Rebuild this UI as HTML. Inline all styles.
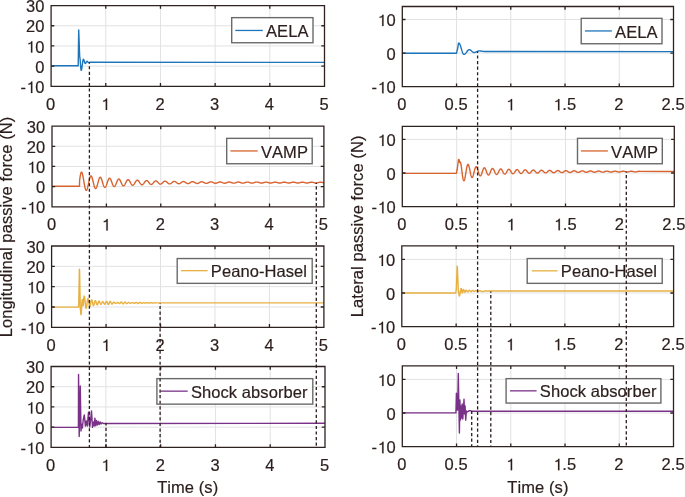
<!DOCTYPE html><html><head><meta charset="utf-8"><style>html,body{margin:0;padding:0;background:#fff;width:685px;height:497px;overflow:hidden}svg{display:block;will-change:transform}text{font-family:"Liberation Sans",sans-serif;font-size:16.5px;letter-spacing:0.08px;font-kerning:none;fill:#2b1e1c;stroke:#2b1e1c;stroke-width:0.2px}.g1{fill:#2b1e1c;stroke:#2b1e1c;stroke-width:25px}</style></head><body>
<svg width="685" height="497" viewBox="0 0 685 497">
<rect width="685" height="497" fill="#fff"/>
<clipPath id="cL0"><rect x="51.1" y="5.6" width="273.4" height="80.7"/></clipPath>
<path d="M105.78 5.6V86.3M160.46 5.6V86.3M215.14 5.6V86.3M269.82 5.6V86.3M51.1 66.12H324.5M51.1 45.95H324.5M51.1 25.77H324.5" stroke="#e1e2e4" stroke-width="1" fill="none"/>
<path d="M40 65.7 L78.2 65.7 L78.7 29.9 L79.7 57 L79.91 57.66 L80.13 59.52 L80.34 62.21 L80.56 65.19 L80.77 67.88 L80.99 69.74 L81.2 70.4 L81.4 70.18 L81.6 69.52 L81.8 68.48 L82 67.16 L82.2 65.64 L82.4 64.06 L82.6 62.54 L82.8 61.22 L83 60.18 L83.2 59.52 L83.4 59.3 L83.61 59.43 L83.82 59.79 L84.03 60.35 L84.24 61.04 L84.46 61.76 L84.67 62.45 L84.88 63.01 L85.09 63.37 L85.3 63.5 L85.51 63.42 L85.72 63.18 L85.94 62.82 L86.15 62.4 L86.36 61.98 L86.58 61.62 L86.79 61.38 L87 61.3 L87.23 61.36 L87.46 61.54 L87.69 61.81 L87.91 62.09 L88.14 62.36 L88.37 62.54 L88.6 62.6 L88.8 62.58 L89 62.54 L89.2 62.48 L89.4 62.4 L89.6 62.32 L89.8 62.26 L90 62.22 L90.2 62.2 L330 62.4" fill="none" stroke="#1f75ba" stroke-width="1.4" stroke-linejoin="round" stroke-linecap="butt" clip-path="url(#cL0)"/>
<path d="M51.1 5.6H324.5V86.3H51.1ZM51.1 86.3v-3.2M51.1 5.6v3.2M105.78 86.3v-3.2M105.78 5.6v3.2M160.46 86.3v-3.2M160.46 5.6v3.2M215.14 86.3v-3.2M215.14 5.6v3.2M269.82 86.3v-3.2M269.82 5.6v3.2M324.5 86.3v-3.2M324.5 5.6v3.2M51.1 86.3h3.2M324.5 86.3h-3.2M51.1 66.12h3.2M324.5 66.12h-3.2M51.1 45.95h3.2M324.5 45.95h-3.2M51.1 25.77h3.2M324.5 25.77h-3.2M51.1 5.6h3.2M324.5 5.6h-3.2" stroke="#2e2220" stroke-width="1.3" fill="none" stroke-linejoin="miter"/>
<text x="46.07" y="109.9">0</text>
<path class="g1" transform="translate(100.75 109.9) scale(0.008057 -0.008057)" d="M620 0L790 0L790 1409L672 1409Q600 1185 300 1150L300 1022Q520 1030 620 1118Z"/>
<text x="100.75" y="109.9"> </text>
<text x="155.43" y="109.9">2</text>
<text x="210.11" y="109.9">3</text>
<text x="264.79" y="109.9">4</text>
<text x="319.47" y="109.9">5</text>
<path class="g1" transform="translate(25.97 92.9) scale(0.008057 -0.008057)" d="M620 0L790 0L790 1409L672 1409Q600 1185 300 1150L300 1022Q520 1030 620 1118Z"/>
<text x="20.39" y="92.9">- 0</text>
<text x="35.22" y="72.72">0</text>
<path class="g1" transform="translate(25.97 52.55) scale(0.008057 -0.008057)" d="M620 0L790 0L790 1409L672 1409Q600 1185 300 1150L300 1022Q520 1030 620 1118Z"/>
<text x="25.97" y="52.55"> 0</text>
<text x="25.97" y="32.38">20</text>
<text x="25.97" y="12.2">30</text>
<rect x="231.7" y="17.65" width="81.3" height="25.1" fill="#fff" stroke="#6a6a6a" stroke-width="1.4"/>
<path d="M235.3 30.45H262.8" stroke="#1f75ba" stroke-width="1.3"/>
<text x="266" y="37.05">AELA</text>
<clipPath id="cL1"><rect x="52" y="126.1" width="271.9" height="80.7"/></clipPath>
<path d="M106.38 126.1V206.8M160.76 126.1V206.8M215.14 126.1V206.8M269.52 126.1V206.8M52 186.62H323.9M52 166.45H323.9M52 146.28H323.9" stroke="#e1e2e4" stroke-width="1" fill="none"/>
<path d="M40 186.3 L79.5 186.3 L79.6 180.77 L79.8 179.15 L80 177.66 L80.2 176.33 L80.4 175.17 L80.6 174.19 L80.8 173.4 L81 172.8 L81.2 172.4 L81.4 172.19 L81.6 172.17 L81.8 172.33 L82 172.67 L82.2 173.17 L82.4 173.83 L82.6 174.61 L82.8 175.51 L83 176.52 L83.2 177.6 L83.4 178.74 L83.6 179.92 L83.8 181.12 L84 182.31 L84.2 183.49 L84.4 184.62 L84.6 185.69 L84.8 186.68 L85 187.58 L85.2 188.37 L85.4 189.05 L85.6 189.6 L85.8 190.01 L86 190.28 L86.2 190.41 L86.4 190.4 L86.6 190.25 L86.8 189.97 L87 189.55 L87.2 189.02 L87.4 188.38 L87.6 187.65 L87.8 186.84 L88 185.96 L88.2 185.03 L88.4 184.07 L88.6 183.1 L88.8 182.13 L89 181.18 L89.2 180.27 L89.4 179.41 L89.6 178.62 L89.8 177.91 L90 177.3 L90.2 176.78 L90.4 176.38 L90.6 176.09 L90.8 175.93 L91 175.89 L91.2 175.97 L91.4 176.17 L91.6 176.48 L91.8 176.9 L92 177.42 L92.2 178.03 L92.4 178.71 L92.6 179.46 L92.8 180.26 L93 181.09 L93.2 181.94 L93.4 182.8 L93.6 183.64 L93.8 184.45 L94 185.23 L94.2 185.95 L94.4 186.6 L94.6 187.17 L94.8 187.65 L95 188.04 L95.2 188.33 L95.4 188.5 L95.6 188.57 L95.8 188.53 L96 188.39 L96.2 188.14 L96.4 187.79 L96.6 187.35 L96.8 186.82 L97 186.23 L97.2 185.58 L97.4 184.87 L97.6 184.13 L97.8 183.38 L98 182.61 L98.2 181.85 L98.4 181.11 L98.6 180.41 L98.8 179.75 L99 179.15 L99.2 178.62 L99.4 178.16 L99.6 177.79 L99.8 177.51 L100 177.33 L100.2 177.24 L100.4 177.25 L100.6 177.36 L100.8 177.56 L101 177.86 L101.2 178.23 L101.4 178.69 L101.6 179.21 L101.8 179.78 L102 180.41 L102.2 181.07 L102.4 181.75 L102.6 182.43 L102.8 183.12 L103 183.79 L103.2 184.44 L103.4 185.04 L103.6 185.59 L103.8 186.09 L104 186.51 L104.2 186.87 L104.4 187.14 L104.6 187.32 L104.8 187.42 L105 187.43 L105.2 187.35 L105.4 187.19 L105.6 186.94 L105.8 186.62 L106 186.22 L106.2 185.76 L106.4 185.25 L106.6 184.7 L106.8 184.11 L107 183.5 L107.2 182.88 L107.4 182.26 L107.6 181.65 L107.8 181.06 L108 180.51 L108.2 180 L108.4 179.54 L108.6 179.14 L108.8 178.81 L109 178.55 L109.2 178.37 L109.4 178.26 L109.6 178.24 L109.8 178.29 L110 178.42 L110.2 178.63 L110.4 178.91 L110.6 179.25 L110.8 179.66 L111 180.11 L111.2 180.6 L111.4 181.13 L111.6 181.68 L111.8 182.24 L112 182.8 L112.2 183.35 L112.4 183.89 L112.6 184.39 L112.8 184.86 L113 185.29 L113.2 185.66 L113.4 185.97 L113.6 186.22 L113.8 186.4 L114 186.51 L114.2 186.55 L114.4 186.51 L114.6 186.4 L114.8 186.23 L115 185.99 L115.2 185.69 L115.4 185.33 L115.6 184.93 L115.8 184.49 L116 184.02 L116.2 183.53 L116.4 183.02 L116.6 182.51 L116.8 182.01 L117 181.52 L117.2 181.06 L117.4 180.63 L117.6 180.23 L117.8 179.89 L118 179.6 L118.2 179.36 L118.4 179.19 L118.6 179.08 L118.8 179.03 L119 179.05 L119.2 179.14 L119.4 179.29 L119.6 179.49 L119.8 179.76 L120 180.07 L120.2 180.43 L120.4 180.82 L120.6 181.24 L120.8 181.69 L121 182.14 L121.2 182.6 L121.4 183.06 L121.6 183.51 L121.8 183.93 L122 184.33 L122.2 184.69 L122.4 185.01 L122.6 185.28 L122.8 185.5 L123 185.67 L123.2 185.78 L123.4 185.83 L123.6 185.82 L123.8 185.75 L124 185.63 L124.2 185.45 L124.4 185.22 L124.6 184.94 L124.8 184.62 L125 184.27 L125.2 183.89 L125.4 183.49 L125.6 183.08 L125.8 182.66 L126 182.24 L126.2 181.84 L126.4 181.45 L126.6 181.09 L126.8 180.75 L127 180.46 L127.2 180.2 L127.4 179.99 L127.6 179.83 L127.8 179.73 L128 179.67 L128.2 179.67 L128.4 179.73 L128.6 179.83 L128.8 179.99 L129 180.19 L129.2 180.44 L129.4 180.72 L129.6 181.04 L129.8 181.38 L130 181.74 L130.2 182.11 L130.4 182.49 L130.6 182.87 L130.8 183.24 L131 183.6 L131.2 183.93 L131.4 184.24 L131.6 184.51 L131.8 184.75 L132 184.95 L132.2 185.1 L132.4 185.2 L132.6 185.26 L132.8 185.26 L133 185.22 L133.2 185.13 L133.4 184.99 L133.6 184.81 L133.8 184.59 L134 184.34 L134.2 184.06 L134.4 183.75 L134.6 183.42 L134.8 183.08 L135 182.74 L135.2 182.39 L135.4 182.05 L135.6 181.73 L135.8 181.42 L136 181.14 L136.2 180.89 L136.4 180.67 L136.6 180.48 L136.8 180.34 L137 180.24 L137.2 180.19 L137.4 180.17 L137.6 180.21 L137.8 180.29 L138 180.41 L138.2 180.57 L138.4 180.76 L138.6 180.99 L138.8 181.24 L139 181.52 L139.2 181.82 L139.4 182.13 L139.6 182.44 L139.8 182.76 L140 183.07 L140.2 183.36 L140.4 183.65 L140.6 183.91 L140.8 184.14 L141 184.34 L141.2 184.51 L141.4 184.65 L141.6 184.74 L141.8 184.8 L142 184.81 L142.2 184.78 L142.4 184.72 L142.6 184.61 L142.8 184.47 L143 184.29 L143.2 184.09 L143.4 183.86 L143.6 183.61 L143.8 183.34 L144 183.06 L144.2 182.77 L144.4 182.48 L144.6 182.2 L144.8 181.93 L145 181.67 L145.2 181.43 L145.4 181.21 L145.6 181.02 L145.8 180.86 L146 180.74 L146.2 180.65 L146.4 180.6 L146.6 180.58 L146.8 180.6 L147 180.66 L147.2 180.75 L147.4 180.88 L147.6 181.04 L147.8 181.22 L148 181.43 L148.2 181.66 L148.4 181.91 L148.6 182.16 L148.8 182.42 L149 182.69 L149.2 182.95 L149.4 183.2 L149.6 183.44 L149.8 183.66 L150 183.86 L150.2 184.03 L150.4 184.18 L150.6 184.3 L150.8 184.38 L151 184.43 L151.2 184.45 L151.4 184.43 L151.6 184.38 L151.8 184.3 L152 184.18 L152.2 184.04 L152.4 183.87 L152.6 183.68 L152.8 183.47 L153 183.25 L153.2 183.01 L153.4 182.77 L153.6 182.53 L153.8 182.3 L154 182.06 L154.2 181.85 L154.4 181.64 L154.6 181.46 L154.8 181.3 L155 181.16 L155.2 181.05 L155.4 180.97 L155.6 180.92 L155.8 180.9 L156 180.92 L156.2 180.96 L156.4 181.04 L156.6 181.14 L156.8 181.27 L157 181.43 L157.2 181.6 L157.4 181.79 L157.6 182 L157.8 182.21 L158 182.43 L158.2 182.65 L158.4 182.87 L158.6 183.08 L158.8 183.28 L159 183.47 L159.2 183.64 L159.4 183.79 L159.6 183.92 L159.8 184.02 L160 184.09 L160.2 184.14 L160.4 184.16 L160.6 184.15 L160.8 184.11 L161 184.04 L161.2 183.94 L161.4 183.82 L161.6 183.68 L161.8 183.53 L162 183.35 L162.2 183.16 L162.4 182.96 L162.6 182.76 L162.8 182.56 L163 182.36 L163.2 182.16 L163.4 181.97 L163.6 181.8 L163.8 181.64 L164 181.51 L164.2 181.39 L164.4 181.29 L164.6 181.22 L164.8 181.18 L165 181.17 L165.2 181.18 L165.4 181.21 L165.6 181.27 L165.8 181.36 L166 181.47 L166.2 181.6 L166.4 181.74 L166.6 181.91 L166.8 182.08 L167 182.26 L167.2 182.45 L167.4 182.64 L167.6 182.82 L167.8 183 L168 183.18 L168.2 183.34 L168.4 183.48 L168.6 183.61 L168.8 183.72 L169 183.8 L169.2 183.87 L169.4 183.91 L169.6 183.92 L169.8 183.92 L170 183.88 L170.2 183.82 L170.4 183.74 L170.6 183.64 L170.8 183.53 L171 183.39 L171.2 183.24 L171.4 183.08 L171.6 182.91 L171.8 182.74 L172 182.57 L172.2 182.39 L172.4 182.23 L172.6 182.07 L172.8 181.92 L173 181.78 L173.2 181.67 L173.4 181.57 L173.6 181.49 L173.8 181.43 L174 181.39 L174.2 181.37 L174.4 181.38 L174.6 181.41 L174.8 181.47 L175 181.54 L175.2 181.63 L175.4 181.74 L175.6 181.87 L175.8 182.01 L176 182.16 L176.2 182.31 L176.4 182.47 L176.6 182.63 L176.8 182.79 L177 182.95 L177.2 183.1 L177.4 183.23 L177.6 183.36 L177.8 183.47 L178 183.56 L178.2 183.64 L178.4 183.69 L178.6 183.72 L178.8 183.74 L179 183.73 L179.2 183.7 L179.4 183.65 L179.6 183.58 L179.8 183.49 L180 183.39 L180.2 183.27 L180.4 183.15 L180.6 183.01 L180.8 182.86 L181 182.71 L181.2 182.56 L181.4 182.42 L181.6 182.27 L181.8 182.13 L182 182.01 L182.2 181.89 L182.4 181.79 L182.6 181.7 L182.8 181.63 L183 181.58 L183.2 181.55 L183.4 181.54 L183.6 181.55 L183.8 181.58 L184 181.63 L184.2 181.69 L184.4 181.77 L184.6 181.87 L184.8 181.98 L185 182.1 L185.2 182.23 L185.4 182.36 L185.6 182.5 L185.8 182.64 L186 182.78 L186.2 182.91 L186.4 183.04 L186.6 183.16 L186.8 183.27 L187 183.36 L187.2 183.44 L187.4 183.5 L187.6 183.55 L187.8 183.58 L188 183.59 L188.2 183.58 L188.4 183.55 L188.6 183.51 L188.8 183.44 L189 183.37 L189.2 183.28 L189.4 183.17 L189.6 183.06 L189.8 182.94 L190 182.81 L190.2 182.68 L190.4 182.55 L190.6 182.42 L190.8 182.3 L191 182.18 L191.2 182.07 L191.4 181.97 L191.6 181.88 L191.8 181.81 L192 181.75 L192.2 181.71 L192.4 181.69 L192.6 181.68 L192.8 181.69 L193 181.71 L193.2 181.76 L193.4 181.81 L193.6 181.89 L193.8 181.97 L194 182.07 L194.2 182.18 L194.4 182.29 L194.6 182.41 L194.8 182.53 L195 182.65 L195.2 182.77 L195.4 182.89 L195.6 183 L195.8 183.1 L196 183.2 L196.2 183.28 L196.4 183.35 L196.6 183.4 L196.8 183.44 L197 183.46 L197.2 183.47 L197.4 183.46 L197.6 183.43 L197.8 183.39 L198 183.33 L198.2 183.26 L198.4 183.18 L198.6 183.09 L198.8 182.99 L199 182.88 L199.2 182.77 L199.4 182.65 L199.6 182.54 L199.8 182.43 L200 182.32 L200.2 182.21 L200.4 182.12 L200.6 182.03 L200.8 181.96 L201 181.89 L201.2 181.84 L201.4 181.81 L201.6 181.79 L201.8 181.79 L202 181.8 L202.2 181.82 L202.4 181.86 L202.6 181.92 L202.8 181.98 L203 182.06 L203.2 182.15 L203.4 182.24 L203.6 182.35 L203.8 182.45 L204 182.56 L204.2 182.67 L204.4 182.78 L204.6 182.88 L204.8 182.97 L205 183.06 L205.2 183.14 L205.4 183.21 L205.6 183.27 L205.8 183.32 L206 183.35 L206.2 183.36 L206.4 183.37 L206.6 183.36 L206.8 183.33 L207 183.29 L207.2 183.24 L207.4 183.17 L207.6 183.1 L207.8 183.02 L208 182.92 L208.2 182.83 L208.4 182.73 L208.6 182.62 L208.8 182.52 L209 182.42 L209.2 182.33 L209.4 182.23 L209.6 182.15 L209.8 182.08 L210 182.01 L210.2 181.96 L210.4 181.92 L210.6 181.89 L210.8 181.88 L211 181.87 L211.2 181.89 L211.4 181.91 L211.6 181.95 L211.8 182 L212 182.07 L212.2 182.14 L212.4 182.22 L212.6 182.31 L212.8 182.4 L213 182.49 L213.2 182.59 L213.4 182.69 L213.6 182.78 L213.8 182.87 L214 182.96 L214.2 183.04 L214.4 183.11 L214.6 183.17 L214.8 183.22 L215 183.25 L215.2 183.28 L215.4 183.29 L215.6 183.29 L215.8 183.27 L216 183.25 L216.2 183.21 L216.4 183.16 L216.6 183.1 L216.8 183.03 L217 182.95 L217.2 182.87 L217.4 182.78 L217.6 182.69 L217.8 182.59 L218 182.5 L218.2 182.41 L218.4 182.33 L218.6 182.25 L218.8 182.17 L219 182.11 L219.2 182.05 L219.4 182.01 L219.6 181.98 L219.8 181.95 L220 181.94 L220.2 181.95 L220.4 181.96 L220.6 181.99 L220.8 182.03 L221 182.08 L221.2 182.14 L221.4 182.2 L221.6 182.28 L221.8 182.36 L222 182.44 L222.2 182.53 L222.4 182.62 L222.6 182.71 L222.8 182.79 L223 182.87 L223.2 182.95 L223.4 183.02 L223.6 183.08 L223.8 183.13 L224 183.17 L224.2 183.2 L224.4 183.22 L224.6 183.23 L224.8 183.22 L225 183.2 L225.2 183.18 L225.4 183.14 L225.6 183.09 L225.8 183.03 L226 182.97 L226.2 182.89 L226.4 182.81 L226.6 182.73 L226.8 182.65 L227 182.57 L227.2 182.48 L227.4 182.4 L227.6 182.32 L227.8 182.25 L228 182.19 L228.2 182.13 L228.4 182.09 L228.6 182.05 L228.8 182.02 L229 182.01 L229.2 182 L229.4 182.01 L229.6 182.03 L229.8 182.05 L230 182.09 L230.2 182.14 L230.4 182.2 L230.6 182.26 L230.8 182.33 L231 182.41 L231.2 182.49 L231.4 182.57 L231.6 182.65 L231.8 182.73 L232 182.81 L232.2 182.88 L232.4 182.95 L232.6 183.01 L232.8 183.06 L233 183.1 L233.2 183.14 L233.4 183.16 L233.6 183.17 L233.8 183.17 L234 183.17 L234.2 183.15 L234.4 183.12 L234.6 183.08 L234.8 183.03 L235 182.97 L235.2 182.91 L235.4 182.84 L235.6 182.77 L235.8 182.69 L236 182.61 L236.2 182.54 L236.4 182.46 L236.6 182.39 L236.8 182.32 L237 182.25 L237.2 182.2 L237.4 182.15 L237.6 182.11 L237.8 182.08 L238 182.06 L238.2 182.05 L238.4 182.05 L238.6 182.06 L238.8 182.08 L239 182.11 L239.2 182.15 L239.4 182.2 L239.6 182.25 L239.8 182.32 L240 182.38 L240.2 182.46 L240.4 182.53 L240.6 182.6 L240.8 182.68 L241 182.75 L241.2 182.82 L241.4 182.89 L241.6 182.95 L241.8 183 L242 183.04 L242.2 183.08 L242.4 183.11 L242.6 183.13 L242.8 183.13 L243 183.13 L243.2 183.12 L243.4 183.1 L243.6 183.06 L243.8 183.02 L244 182.97 L244.2 182.92 L244.4 182.86 L244.6 182.79 L244.8 182.72 L245 182.65 L245.2 182.58 L245.4 182.51 L245.6 182.44 L245.8 182.37 L246 182.31 L246.2 182.25 L246.4 182.2 L246.6 182.16 L246.8 182.13 L247 182.1 L247.2 182.09 L247.4 182.08 L247.6 182.09 L247.8 182.1 L248 182.13 L248.2 182.16 L248.4 182.2 L248.6 182.25 L248.8 182.31 L249 182.37 L249.2 182.43 L249.4 182.5 L249.6 182.57 L249.8 182.64 L250 182.71 L250.2 182.78 L250.4 182.84 L250.6 182.9 L250.8 182.95 L251 183 L251.2 183.03 L251.4 183.06 L251.6 183.09 L251.8 183.1 L252 183.1 L252.2 183.09 L252.4 183.08 L252.6 183.05 L252.8 183.02 L253 182.97 L253.2 182.92 L253.4 182.87 L253.6 182.81 L253.8 182.75 L254 182.68 L254.2 182.61 L254.4 182.54 L254.6 182.48 L254.8 182.41 L255 182.35 L255.2 182.3 L255.4 182.25 L255.6 182.2 L255.8 182.17 L256 182.14 L256.2 182.12 L256.4 182.12 L256.6 182.12 L256.8 182.13 L257 182.12 L257.2 182.12 L257.4 182.14 L257.6 182.16 L257.8 182.19 L258 182.23 L258.2 182.28 L258.4 182.33 L258.6 182.39 L258.8 182.45 L259 182.51 L259.2 182.58 L259.4 182.64 L259.6 182.71 L259.8 182.77 L260 182.83 L260.2 182.89 L260.4 182.93 L260.6 182.98 L260.8 183.01 L261 183.04 L261.2 183.06 L261.4 183.07 L261.6 183.07 L261.8 183.06 L262 183.05 L262.2 183.02 L262.4 182.99 L262.6 182.95 L262.8 182.9 L263 182.85 L263.2 182.79 L263.4 182.73 L263.6 182.67 L263.8 182.6 L264 182.54 L264.2 182.48 L264.4 182.42 L264.6 182.36 L264.8 182.31 L265 182.26 L265.2 182.22 L265.4 182.19 L265.6 182.16 L265.8 182.15 L266 182.14 L266.2 182.14 L266.4 182.15 L266.6 182.17 L266.8 182.2 L267 182.23 L267.2 182.27 L267.4 182.32 L267.6 182.37 L267.8 182.43 L268 182.49 L268.2 182.55 L268.4 182.62 L268.6 182.68 L268.8 182.74 L269 182.8 L269.2 182.85 L269.4 182.9 L269.6 182.94 L269.8 182.98 L270 183.01 L270.2 183.03 L270.4 183.04 L270.6 183.05 L270.8 183.05 L271 183.03 L271.2 183.01 L271.4 182.98 L271.6 182.95 L271.8 182.91 L272 182.86 L272.2 182.8 L272.4 182.75 L272.6 182.69 L272.8 182.63 L273 182.57 L273.2 182.51 L273.4 182.45 L273.6 182.39 L273.8 182.34 L274 182.29 L274.2 182.25 L274.4 182.22 L274.6 182.19 L274.8 182.17 L275 182.16 L275.2 182.16 L275.4 182.17 L275.6 182.18 L275.8 182.2 L276 182.23 L276.2 182.27 L276.4 182.31 L276.6 182.36 L276.8 182.42 L277 182.47 L277.2 182.53 L277.4 182.59 L277.6 182.65 L277.8 182.71 L278 182.77 L278.2 182.82 L278.4 182.87 L278.6 182.91 L278.8 182.95 L279 182.98 L279.2 183.01 L279.4 183.02 L279.6 183.03 L279.8 183.03 L280 183.02 L280.2 183.01 L280.4 182.98 L280.6 182.95 L280.8 182.91 L281 182.87 L281.2 182.82 L281.4 182.76 L281.6 182.71 L281.8 182.65 L282 182.59 L282.2 182.53 L282.4 182.47 L282.6 182.42 L282.8 182.37 L283 182.32 L283.2 182.28 L283.4 182.24 L283.6 182.22 L283.8 182.19 L284 182.18 L284.2 182.18 L284.4 182.18 L284.6 182.19 L284.8 182.21 L285 182.23 L285.2 182.27 L285.4 182.31 L285.6 182.35 L285.8 182.4 L286 182.45 L286.2 182.51 L286.4 182.57 L286.6 182.63 L286.8 182.68 L287 182.74 L287.2 182.79 L287.4 182.84 L287.6 182.89 L287.8 182.93 L288 182.96 L288.2 182.98 L288.4 183 L288.6 183.01 L288.8 183.02 L289 183.01 L289.2 183 L289.4 182.98 L289.6 182.95 L289.8 182.92 L290 182.88 L290.2 182.83 L290.4 182.78 L290.6 182.73 L290.8 182.67 L291 182.61 L291.2 182.56 L291.4 182.5 L291.6 182.45 L291.8 182.4 L292 182.35 L292.2 182.31 L292.4 182.27 L292.6 182.24 L292.8 182.21 L293 182.2 L293.2 182.19 L293.4 182.19 L293.6 182.2 L293.8 182.21 L294 182.23 L294.2 182.26 L294.4 182.3 L294.6 182.34 L294.8 182.39 L295 182.44 L295.2 182.49 L295.4 182.55 L295.6 182.6 L295.8 182.66 L296 182.71 L296.2 182.77 L296.4 182.82 L296.6 182.86 L296.8 182.9 L297 182.94 L297.2 182.96 L297.4 182.99 L297.6 183 L297.8 183 L298 183 L298.2 182.99 L298.4 182.98 L298.6 182.95 L298.8 182.92 L299 182.88 L299.2 182.84 L299.4 182.8 L299.6 182.74 L299.8 182.69 L300 182.64 L300.2 182.58 L300.4 182.53 L300.6 182.47 L300.8 182.42 L301 182.37 L301.2 182.33 L301.4 182.29 L301.6 182.26 L301.8 182.23 L302 182.21 L302.2 182.2 L302.4 182.2 L302.6 182.2 L302.8 182.22 L303 182.23 L303.2 182.26 L303.4 182.29 L303.6 182.33 L303.8 182.37 L304 182.42 L304.2 182.47 L304.4 182.53 L304.6 182.58 L304.8 182.64 L305 182.69 L305.2 182.74 L305.4 182.79 L305.6 182.84 L305.8 182.88 L306 182.92 L306.2 182.95 L306.4 182.97 L306.6 182.98 L306.8 182.99 L307 183 L307.2 182.99 L307.4 182.98 L307.6 182.95 L307.8 182.93 L308 182.89 L308.2 182.85 L308.4 182.81 L308.6 182.76 L308.8 182.71 L309 182.66 L309.2 182.6 L309.4 182.55 L309.6 182.5 L309.8 182.44 L310 182.4 L310.2 182.35 L310.4 182.31 L310.6 182.28 L310.8 182.25 L311 182.23 L311.2 182.22 L311.4 182.21 L311.6 182.21 L311.8 182.22 L312 182.23 L312.2 182.26 L312.4 182.29 L312.6 182.32 L312.8 182.36 L313 182.41 L313.2 182.46 L313.4 182.51 L313.6 182.56 L313.8 182.61 L314 182.67 L314.2 182.72 L314.4 182.77 L314.6 182.82 L314.8 182.86 L315 182.9 L315.2 182.93 L315.4 182.95 L315.6 182.97 L315.8 182.98 L316 182.99 L316.2 182.98 L316.4 182.97 L316.6 182.96 L316.8 182.93 L317 182.9 L317.2 182.86 L317.4 182.82 L317.6 182.78 L317.8 182.73 L318 182.68 L318.2 182.62 L318.4 182.57 L318.6 182.52 L318.8 182.47 L319 182.42 L319.2 182.37 L319.4 182.33 L319.6 182.3 L319.8 182.27 L320 182.24 L320.2 182.23 L320.4 182.22 L320.6 182.22 L320.8 182.22 L321 182.23 L321.2 182.25 L321.4 182.28 L321.6 182.31 L321.8 182.35 L322 182.39 L322.2 182.44 L322.4 182.49 L322.6 182.54 L322.8 182.59 L323 182.64 L323.2 182.7 L323.4 182.75 L323.6 182.79 L323.8 182.84 L324 182.88 L324.2 182.91 L324.4 182.94 L324.6 182.96 L324.8 182.97 L325 182.98 L325.2 182.98 L325.4 182.97 L325.6 182.96 L325.8 182.94 L330 182.6" fill="none" stroke="#d9632e" stroke-width="1.4" stroke-linejoin="round" stroke-linecap="butt" clip-path="url(#cL1)"/>
<path d="M52 126.1H323.9V206.8H52ZM52 206.8v-3.2M52 126.1v3.2M106.38 206.8v-3.2M106.38 126.1v3.2M160.76 206.8v-3.2M160.76 126.1v3.2M215.14 206.8v-3.2M215.14 126.1v3.2M269.52 206.8v-3.2M269.52 126.1v3.2M323.9 206.8v-3.2M323.9 126.1v3.2M52 206.8h3.2M323.9 206.8h-3.2M52 186.62h3.2M323.9 186.62h-3.2M52 166.45h3.2M323.9 166.45h-3.2M52 146.28h3.2M323.9 146.28h-3.2M52 126.1h3.2M323.9 126.1h-3.2" stroke="#2e2220" stroke-width="1.3" fill="none" stroke-linejoin="miter"/>
<text x="46.97" y="230.4">0</text>
<path class="g1" transform="translate(101.35 230.4) scale(0.008057 -0.008057)" d="M620 0L790 0L790 1409L672 1409Q600 1185 300 1150L300 1022Q520 1030 620 1118Z"/>
<text x="101.35" y="230.4"> </text>
<text x="155.73" y="230.4">2</text>
<text x="210.11" y="230.4">3</text>
<text x="264.49" y="230.4">4</text>
<text x="318.87" y="230.4">5</text>
<path class="g1" transform="translate(26.87 213.4) scale(0.008057 -0.008057)" d="M620 0L790 0L790 1409L672 1409Q600 1185 300 1150L300 1022Q520 1030 620 1118Z"/>
<text x="21.29" y="213.4">- 0</text>
<text x="36.12" y="193.22">0</text>
<path class="g1" transform="translate(26.87 173.05) scale(0.008057 -0.008057)" d="M620 0L790 0L790 1409L672 1409Q600 1185 300 1150L300 1022Q520 1030 620 1118Z"/>
<text x="26.87" y="173.05"> 0</text>
<text x="26.87" y="152.88">20</text>
<text x="26.87" y="132.7">30</text>
<rect x="226.7" y="138.35" width="85.5" height="25.4" fill="#fff" stroke="#6a6a6a" stroke-width="1.4"/>
<path d="M230.4 150.95H257.7" stroke="#d9632e" stroke-width="1.3"/>
<text x="260.9" y="157.55">VAMP</text>
<clipPath id="cL2"><rect x="51.6" y="246" width="272.3" height="81.3"/></clipPath>
<path d="M106.06 246V327.3M160.52 246V327.3M214.98 246V327.3M269.44 246V327.3M51.6 306.98H323.9M51.6 286.65H323.9M51.6 266.32H323.9" stroke="#e1e2e4" stroke-width="1" fill="none"/>
<path d="M40 307.1 L78.7 307.1 L79.35 269.3 L79.55 269.5 L80.3 309 L80.53 310.43 L80.77 313.27 L81 314.7 L81.22 313.68 L81.43 310.9 L81.65 307.1 L81.87 303.3 L82.08 300.52 L82.3 299.5 L82.53 300.38 L82.75 302.5 L82.97 304.62 L83.2 305.5 L83.6 300.08 L83.75 298.5 L83.9 297.26 L84.05 296.43 L84.2 296.05 L84.35 296.11 L84.5 296.6 L84.65 297.48 L84.8 298.66 L84.95 300.07 L85.1 301.6 L85.25 303.16 L85.4 304.64 L85.55 305.95 L85.7 307.02 L85.85 307.79 L86 308.22 L86.15 308.3 L86.3 308.03 L86.45 307.44 L86.6 306.59 L86.75 305.53 L86.9 304.34 L87.05 303.11 L87.2 301.9 L87.35 300.79 L87.5 299.86 L87.65 299.15 L87.8 298.71 L87.95 298.54 L88.1 298.66 L88.25 299.04 L88.4 299.66 L88.55 300.46 L88.7 301.4 L88.85 302.4 L89 303.4 L89.15 304.33 L89.3 305.15 L89.45 305.8 L89.6 306.25 L89.75 306.47 L89.9 306.46 L90.05 306.22 L90.2 305.77 L90.35 305.16 L90.5 304.42 L90.65 303.6 L90.8 302.76 L90.95 301.95 L91.1 301.23 L91.25 300.63 L91.4 300.19 L91.55 299.93 L91.7 299.87 L91.85 300.01 L92 300.32 L92.15 300.8 L92.3 301.39 L92.45 302.07 L92.6 302.78 L92.75 303.48 L92.9 304.13 L93.05 304.69 L93.2 305.12 L93.35 305.4 L93.5 305.51 L93.65 305.45 L93.8 305.23 L93.95 304.87 L94.1 304.39 L94.25 303.82 L94.4 303.21 L94.55 302.59 L94.7 302.01 L94.85 301.49 L95 301.07 L95.15 300.77 L95.3 300.62 L95.45 300.61 L95.6 300.74 L95.75 301.02 L95.9 301.41 L96.05 301.89 L96.2 302.43 L96.35 302.99 L96.5 303.54 L96.65 304.03 L96.8 304.44 L96.95 304.74 L97.1 304.92 L97.25 304.96 L97.4 304.87 L97.55 304.66 L97.7 304.33 L97.85 303.93 L98 303.47 L98.15 302.98 L98.3 302.51 L98.45 302.07 L98.6 301.7 L98.75 301.42 L98.9 301.25 L99.05 301.18 L99.2 301.23 L99.35 301.38 L99.5 301.63 L99.65 301.95 L99.8 302.31 L99.95 302.7 L100.1 303.09 L100.25 303.46 L100.4 303.77 L100.55 304.02 L100.7 304.19 L100.85 304.27 L101 304.27 L101.15 304.17 L101.3 304 L101.45 303.77 L101.6 303.48 L101.75 303.17 L101.9 302.85 L102.05 302.53 L102.2 302.25 L102.35 302 L102.5 301.82 L102.65 301.71 L102.8 301.67 L102.95 301.72 L103.1 301.83 L103.25 302.02 L103.4 302.26 L103.55 302.54 L103.7 302.85 L103.85 303.16 L104 303.47 L104.15 303.74 L104.3 303.96 L104.45 304.12 L104.6 304.2 L104.75 304.2 L104.9 304.12 L105.05 303.96 L105.2 303.72 L105.35 303.42 L105.5 303.08 L105.65 302.72 L105.8 302.36 L105.95 302.03 L106.1 301.74 L106.25 301.53 L106.4 301.4 L106.55 301.36 L106.7 301.43 L106.85 301.59 L107 301.85 L107.15 302.17 L107.3 302.56 L107.45 302.97 L107.6 303.38 L107.75 303.77 L107.9 304.11 L108.05 304.37 L108.2 304.53 L108.35 304.59 L108.5 304.54 L108.65 304.38 L108.8 304.12 L108.95 303.79 L109.1 303.39 L109.25 302.97 L109.4 302.55 L109.55 302.15 L109.7 301.81 L109.85 301.54 L110 301.37 L110.15 301.31 L110.3 301.35 L110.45 301.49 L110.6 301.72 L110.75 302.01 L110.9 302.36 L111.05 302.72 L111.2 303.08 L111.35 303.41 L111.5 303.69 L111.65 303.91 L111.8 304.05 L111.95 304.11 L112.1 304.09 L112.25 303.99 L112.4 303.83 L112.55 303.62 L112.7 303.37 L112.85 303.11 L113 302.86 L113.15 302.62 L113.3 302.42 L113.45 302.26 L113.6 302.16 L113.75 302.11 L113.9 302.11 L114.05 302.16 L114.2 302.26 L114.35 302.39 L114.5 302.54 L114.65 302.71 L114.8 302.87 L114.95 303.03 L115.1 303.17 L115.25 303.28 L115.4 303.37 L115.55 303.42 L115.7 303.44 L115.85 303.42 L116 303.37 L116.15 303.3 L116.3 303.2 L116.45 303.09 L116.6 302.96 L116.75 302.84 L116.9 302.71 L117.05 302.6 L117.2 302.51 L117.35 302.43 L117.5 302.39 L117.65 302.38 L117.8 302.39 L117.95 302.45 L118.1 302.53 L118.25 302.64 L118.4 302.78 L118.55 302.93 L118.7 303.08 L118.85 303.23 L119 303.37 L119.15 303.48 L119.3 303.56 L119.45 303.6 L119.6 303.6 L119.75 303.55 L119.9 303.45 L120.05 303.31 L120.2 303.13 L120.35 302.93 L120.5 302.72 L120.65 302.52 L120.8 302.33 L120.95 302.17 L121.1 302.05 L121.25 301.99 L121.4 301.98 L121.55 302.04 L121.7 302.15 L121.85 302.32 L122 302.53 L122.15 302.77 L122.3 303.03 L122.45 303.28 L122.6 303.51 L122.75 303.7 L122.9 303.84 L123.05 303.92 L123.2 303.93 L123.35 303.88 L123.5 303.76 L123.65 303.58 L123.8 303.36 L123.95 303.12 L124.1 302.86 L124.25 302.6 L124.4 302.37 L124.55 302.18 L124.7 302.04 L124.85 301.96 L125 301.94 L125.15 301.98 L125.3 302.08 L125.45 302.24 L125.6 302.43 L125.75 302.64 L125.9 302.86 L126.05 303.08 L126.2 303.28 L126.35 303.44 L126.5 303.56 L126.65 303.63 L126.8 303.65 L126.95 303.62 L127.1 303.55 L127.25 303.44 L127.4 303.3 L127.55 303.14 L127.7 302.98 L127.85 302.82 L128 302.68 L128.15 302.56 L128.3 302.47 L128.45 302.42 L128.6 302.4 L128.75 302.41 L128.9 302.45 L129.05 302.52 L129.2 302.61 L129.35 302.71 L129.5 302.81 L129.65 302.92 L129.8 303.01 L129.95 303.09 L130.1 303.16 L130.25 303.2 L130.4 303.23 L130.55 303.23 L130.7 303.21 L130.85 303.18 L131 303.13 L131.15 303.06 L131.3 302.99 L131.45 302.91 L131.6 302.84 L131.75 302.76 L131.9 302.7 L132.05 302.65 L132.2 302.61 L132.35 302.59 L132.5 302.59 L132.65 302.61 L132.8 302.65 L132.95 302.7 L133.1 302.77 L133.25 302.86 L133.4 302.94 L133.55 303.03 L133.7 303.12 L133.85 303.2 L134 303.26 L134.15 303.3 L134.3 303.31 L134.45 303.3 L134.6 303.26 L134.75 303.19 L134.9 303.11 L135.05 303 L135.2 302.88 L135.35 302.76 L135.5 302.64 L135.65 302.53 L135.8 302.44 L135.95 302.38 L136.1 302.36 L136.25 302.36 L136.4 302.41 L136.55 302.49 L136.7 302.6 L136.85 302.73 L137 302.87 L137.15 303.03 L137.3 303.17 L137.45 303.3 L137.6 303.41 L137.75 303.48 L137.9 303.52 L138.05 303.52 L138.2 303.47 L138.35 303.39 L138.5 303.27 L138.65 303.13 L138.8 302.98 L138.95 302.82 L139.1 302.67 L139.25 302.54 L139.4 302.43 L139.55 302.35 L139.7 302.31 L139.85 302.31 L140 302.35 L140.15 302.42 L140.3 302.53 L140.45 302.65 L140.6 302.78 L140.75 302.92 L140.9 303.05 L141.05 303.17 L141.2 303.26 L141.35 303.33 L141.5 303.37 L141.65 303.37 L141.8 303.34 L141.95 303.29 L142.1 303.21 L142.25 303.12 L142.4 303.02 L142.55 302.92 L142.7 302.82 L142.85 302.73 L143 302.66 L143.15 302.61 L143.3 302.59 L143.45 302.58 L143.6 302.6 L143.75 302.63 L143.9 302.68 L144.05 302.74 L144.2 302.8 L144.35 302.87 L144.5 302.93 L144.65 302.99 L144.8 303.04 L144.95 303.07 L145.1 303.1 L145.25 303.11 L145.4 303.11 L145.55 303.09 L145.7 303.06 L145.85 303.03 L146 302.99 L146.15 302.94 L146.3 302.89 L146.45 302.85 L146.6 302.8 L146.75 302.77 L146.9 302.74 L147.05 302.72 L147.2 302.71 L147.35 302.72 L147.5 302.73 L147.65 302.76 L147.8 302.8 L147.95 302.84 L148.1 302.89 L148.25 302.94 L148.4 302.99 L148.55 303.04 L148.7 303.07 L148.85 303.1 L149 303.11 L149.15 303.11 L149.3 303.1 L149.45 303.07 L149.6 303.03 L149.75 302.98 L149.9 302.93 L150.05 302.87 L150.2 302.82 L150.35 302.77 L150.5 302.73 L150.65 302.7 L150.8 302.68 L150.95 302.68 L151.1 302.7 L151.25 302.72 L151.4 302.76 L151.55 302.81 L151.7 302.86 L151.85 302.91 L152 302.96 L152.15 303 L152.3 303.04 L152.45 303.06 L152.6 303.08 L152.75 303.08 L152.9 303.07 L153.05 303.05 L153.2 303.02 L153.35 302.98 L153.5 302.94 L153.65 302.91 L153.8 302.87 L153.95 302.84 L154.1 302.82 L154.25 302.81 L154.4 302.8 L154.55 302.8 L154.7 302.81 L154.85 302.82 L155 302.84 L155.15 302.86 L155.3 302.88 L155.45 302.89 L155.6 302.91 L155.75 302.92 L155.9 302.92 L156.05 302.93 L156.2 302.92 L156.35 302.92 L156.5 302.92 L156.65 302.91 L156.8 302.91 L156.95 302.9 L157.1 302.9 L157.25 302.9 L157.4 302.9 L157.55 302.9 L157.7 302.9 L157.85 302.9 L158 302.9 L330 302.9" fill="none" stroke="#e7b040" stroke-width="1.4" stroke-linejoin="round" stroke-linecap="butt" clip-path="url(#cL2)"/>
<path d="M51.6 246H323.9V327.3H51.6ZM51.6 327.3v-3.2M51.6 246v3.2M106.06 327.3v-3.2M106.06 246v3.2M160.52 327.3v-3.2M160.52 246v3.2M214.98 327.3v-3.2M214.98 246v3.2M269.44 327.3v-3.2M269.44 246v3.2M323.9 327.3v-3.2M323.9 246v3.2M51.6 327.3h3.2M323.9 327.3h-3.2M51.6 306.98h3.2M323.9 306.98h-3.2M51.6 286.65h3.2M323.9 286.65h-3.2M51.6 266.32h3.2M323.9 266.32h-3.2M51.6 246h3.2M323.9 246h-3.2" stroke="#2e2220" stroke-width="1.3" fill="none" stroke-linejoin="miter"/>
<text x="46.57" y="350.9">0</text>
<path class="g1" transform="translate(101.03 350.9) scale(0.008057 -0.008057)" d="M620 0L790 0L790 1409L672 1409Q600 1185 300 1150L300 1022Q520 1030 620 1118Z"/>
<text x="101.03" y="350.9"> </text>
<text x="155.49" y="350.9">2</text>
<text x="209.95" y="350.9">3</text>
<text x="264.41" y="350.9">4</text>
<text x="318.87" y="350.9">5</text>
<path class="g1" transform="translate(26.47 333.9) scale(0.008057 -0.008057)" d="M620 0L790 0L790 1409L672 1409Q600 1185 300 1150L300 1022Q520 1030 620 1118Z"/>
<text x="20.89" y="333.9">- 0</text>
<text x="35.72" y="313.58">0</text>
<path class="g1" transform="translate(26.47 293.25) scale(0.008057 -0.008057)" d="M620 0L790 0L790 1409L672 1409Q600 1185 300 1150L300 1022Q520 1030 620 1118Z"/>
<text x="26.47" y="293.25"> 0</text>
<text x="26.47" y="272.93">20</text>
<text x="26.47" y="252.6">30</text>
<rect x="177.2" y="258.55" width="135" height="24.8" fill="#fff" stroke="#6a6a6a" stroke-width="1.4"/>
<path d="M181.1 270.65H207.6" stroke="#e7b040" stroke-width="1.3"/>
<text x="210.8" y="277.25">Peano-Hasel</text>
<clipPath id="cL3"><rect x="51.1" y="366.5" width="273.9" height="80.9"/></clipPath>
<path d="M105.88 366.5V447.4M160.66 366.5V447.4M215.44 366.5V447.4M270.22 366.5V447.4M51.1 427.17H325M51.1 406.95H325M51.1 386.73H325" stroke="#e1e2e4" stroke-width="1" fill="none"/>
<path d="M40 427.4 L78.4 427.4 L78.55 374.4 L79.2 436.6 L79.7 415 L80.25 386 L81 431 L81.6 424.1 L82.4 428 L83.2 420 L84.3 414.9 L85.4 426.1 L86.4 421 L87.3 426 L88.5 412.1 L89.7 427 L90.5 421 L91.5 410.9 L92.5 427.4 L93.5 422 L94.2 426 L94.9 418.1 L95.7 425.7 L96.5 420.5 L97.4 425 L98.3 421.5 L99.2 424.5 L100.1 422 L101 424 L102 422.8 L103.8 423.5 L330 423.3" fill="none" stroke="#7a3188" stroke-width="1.4" stroke-linejoin="round" stroke-linecap="butt" clip-path="url(#cL3)"/>
<path d="M51.1 366.5H325V447.4H51.1ZM51.1 447.4v-3.2M51.1 366.5v3.2M105.88 447.4v-3.2M105.88 366.5v3.2M160.66 447.4v-3.2M160.66 366.5v3.2M215.44 447.4v-3.2M215.44 366.5v3.2M270.22 447.4v-3.2M270.22 366.5v3.2M325 447.4v-3.2M325 366.5v3.2M51.1 447.4h3.2M325 447.4h-3.2M51.1 427.17h3.2M325 427.17h-3.2M51.1 406.95h3.2M325 406.95h-3.2M51.1 386.73h3.2M325 386.73h-3.2M51.1 366.5h3.2M325 366.5h-3.2" stroke="#2e2220" stroke-width="1.3" fill="none" stroke-linejoin="miter"/>
<text x="46.07" y="471">0</text>
<path class="g1" transform="translate(100.85 471) scale(0.008057 -0.008057)" d="M620 0L790 0L790 1409L672 1409Q600 1185 300 1150L300 1022Q520 1030 620 1118Z"/>
<text x="100.85" y="471"> </text>
<text x="155.63" y="471">2</text>
<text x="210.41" y="471">3</text>
<text x="265.19" y="471">4</text>
<text x="319.97" y="471">5</text>
<path class="g1" transform="translate(25.97 454) scale(0.008057 -0.008057)" d="M620 0L790 0L790 1409L672 1409Q600 1185 300 1150L300 1022Q520 1030 620 1118Z"/>
<text x="20.39" y="454">- 0</text>
<text x="35.22" y="433.77">0</text>
<path class="g1" transform="translate(25.97 413.55) scale(0.008057 -0.008057)" d="M620 0L790 0L790 1409L672 1409Q600 1185 300 1150L300 1022Q520 1030 620 1118Z"/>
<text x="25.97" y="413.55"> 0</text>
<text x="25.97" y="393.33">20</text>
<text x="25.97" y="373.1">30</text>
<rect x="156.9" y="378.65" width="155.9" height="25.5" fill="#fff" stroke="#6a6a6a" stroke-width="1.4"/>
<path d="M160.8 391.15H187.7" stroke="#7a3188" stroke-width="1.3"/>
<text x="190.9" y="397.75">Shock absorber</text>
<clipPath id="cR0"><rect x="402.3" y="6.5" width="271.2" height="80.2"/></clipPath>
<path d="M456.54 6.5V86.7M510.78 6.5V86.7M565.02 6.5V86.7M619.26 6.5V86.7M402.3 53.1H673.5M402.3 19.5H673.5" stroke="#e1e2e4" stroke-width="1" fill="none"/>
<path d="M390 53.2 L456.5 53.2 L457.4 49.3 L457.62 48.88 L457.83 47.73 L458.05 46.15 L458.27 44.58 L458.48 43.42 L458.7 43 L458.9 43.04 L459.11 43.17 L459.31 43.37 L459.52 43.65 L459.72 44.01 L459.92 44.43 L460.13 44.92 L460.33 45.46 L460.53 46.05 L460.74 46.68 L460.94 47.34 L461.15 48.01 L461.35 48.7 L461.55 49.39 L461.76 50.06 L461.96 50.72 L462.17 51.35 L462.37 51.94 L462.57 52.48 L462.78 52.97 L462.98 53.39 L463.18 53.75 L463.39 54.03 L463.59 54.23 L463.8 54.36 L464 54.4 L464.2 54.38 L464.41 54.33 L464.61 54.25 L464.82 54.13 L465.02 53.98 L465.22 53.81 L465.43 53.61 L465.63 53.38 L465.83 53.14 L466.04 52.88 L466.24 52.61 L466.45 52.33 L466.65 52.05 L466.85 51.77 L467.06 51.49 L467.26 51.22 L467.47 50.96 L467.67 50.72 L467.87 50.49 L468.08 50.29 L468.28 50.12 L468.48 49.97 L468.69 49.85 L468.89 49.77 L469.1 49.72 L469.3 49.7 L469.5 49.71 L469.7 49.75 L469.9 49.81 L470.1 49.89 L470.3 49.99 L470.5 50.11 L470.7 50.25 L470.9 50.4 L471.1 50.56 L471.3 50.74 L471.5 50.92 L471.7 51.1 L471.9 51.28 L472.1 51.46 L472.3 51.64 L472.5 51.8 L472.7 51.95 L472.9 52.09 L473.1 52.21 L473.3 52.31 L473.5 52.39 L473.7 52.45 L473.9 52.49 L474.1 52.5 L474.31 52.49 L474.52 52.47 L474.72 52.44 L474.93 52.4 L475.14 52.35 L475.35 52.28 L475.56 52.21 L475.76 52.13 L475.97 52.04 L476.18 51.95 L476.39 51.85 L476.6 51.75 L476.8 51.65 L477.01 51.55 L477.22 51.45 L477.43 51.36 L477.64 51.27 L477.84 51.19 L478.05 51.12 L478.26 51.05 L478.47 51 L478.68 50.96 L478.88 50.93 L479.09 50.91 L479.3 50.9 L479.5 50.9 L479.71 50.91 L479.91 50.92 L480.11 50.93 L480.32 50.95 L480.52 50.97 L480.73 50.99 L480.93 51.01 L481.13 51.04 L481.34 51.07 L481.54 51.1 L481.74 51.13 L481.95 51.17 L482.15 51.2 L482.35 51.23 L482.56 51.27 L482.76 51.3 L482.96 51.33 L483.17 51.36 L483.37 51.39 L483.57 51.41 L483.78 51.43 L483.98 51.45 L484.19 51.47 L484.39 51.48 L484.59 51.49 L484.8 51.5 L485 51.5 L680 51.6" fill="none" stroke="#1f75ba" stroke-width="1.4" stroke-linejoin="round" stroke-linecap="butt" clip-path="url(#cR0)"/>
<path d="M402.3 6.5H673.5V86.7H402.3ZM402.3 86.7v-3.2M402.3 6.5v3.2M456.54 86.7v-3.2M456.54 6.5v3.2M510.78 86.7v-3.2M510.78 6.5v3.2M565.02 86.7v-3.2M565.02 6.5v3.2M619.26 86.7v-3.2M619.26 6.5v3.2M673.5 86.7v-3.2M673.5 6.5v3.2M402.3 86.7h3.2M673.5 86.7h-3.2M402.3 53.1h3.2M673.5 53.1h-3.2M402.3 19.5h3.2M673.5 19.5h-3.2" stroke="#2e2220" stroke-width="1.3" fill="none" stroke-linejoin="miter"/>
<text x="397.27" y="110.3">0</text>
<text x="444.55" y="110.3">0.5</text>
<path class="g1" transform="translate(505.75 110.3) scale(0.008057 -0.008057)" d="M620 0L790 0L790 1409L672 1409Q600 1185 300 1150L300 1022Q520 1030 620 1118Z"/>
<text x="505.75" y="110.3"> </text>
<path class="g1" transform="translate(553.03 110.3) scale(0.008057 -0.008057)" d="M620 0L790 0L790 1409L672 1409Q600 1185 300 1150L300 1022Q520 1030 620 1118Z"/>
<text x="553.03" y="110.3"> .5</text>
<text x="614.23" y="110.3">2</text>
<text x="661.51" y="110.3">2.5</text>
<path class="g1" transform="translate(377.17 93.3) scale(0.008057 -0.008057)" d="M620 0L790 0L790 1409L672 1409Q600 1185 300 1150L300 1022Q520 1030 620 1118Z"/>
<text x="371.59" y="93.3">- 0</text>
<text x="386.42" y="59.7">0</text>
<path class="g1" transform="translate(377.17 26.1) scale(0.008057 -0.008057)" d="M620 0L790 0L790 1409L672 1409Q600 1185 300 1150L300 1022Q520 1030 620 1118Z"/>
<text x="377.17" y="26.1"> 0</text>
<rect x="581.2" y="18.35" width="80.8" height="25.4" fill="#fff" stroke="#6a6a6a" stroke-width="1.4"/>
<path d="M584.9 30.95H611.9" stroke="#1f75ba" stroke-width="1.3"/>
<text x="615.1" y="37.55">AELA</text>
<clipPath id="cR1"><rect x="402.3" y="126.4" width="272" height="80.2"/></clipPath>
<path d="M456.7 126.4V206.6M511.1 126.4V206.6M565.5 126.4V206.6M619.9 126.4V206.6M402.3 173H674.3M402.3 139.4H674.3" stroke="#e1e2e4" stroke-width="1" fill="none"/>
<path d="M390 173.4 L456.3 173.4 L457.2 169.5 L458.5 159.4 L458.73 159.5 L458.97 159.7 L459.2 159.8 L459.4 161.1 L459.6 162.4 L459.9 162.2 L460.2 162 L460.4 162.15 L460.6 162.61 L460.8 163.36 L461 164.36 L461.2 165.6 L461.4 167.02 L461.6 168.57 L461.8 170.21 L462 171.89 L462.2 173.53 L462.4 175.08 L462.6 176.5 L462.8 177.74 L463 178.74 L463.2 179.49 L463.4 179.95 L463.6 180.1 L463.8 180.72 L464 180.73 L464.2 180.53 L464.4 180.13 L464.6 179.54 L464.8 178.77 L465 177.85 L465.2 176.81 L465.4 175.68 L465.6 174.47 L465.8 173.23 L466 171.97 L466.2 170.74 L466.4 169.56 L466.6 168.45 L466.8 167.44 L467 166.55 L467.2 165.79 L467.4 165.2 L467.6 164.76 L467.8 164.49 L468 164.4 L468.2 164.48 L468.4 164.72 L468.6 165.12 L468.8 165.66 L469 166.33 L469.2 167.11 L469.4 167.98 L469.6 168.92 L469.8 169.9 L470 170.9 L470.2 171.9 L470.4 172.87 L470.6 173.79 L470.8 174.64 L471 175.41 L471.2 176.07 L471.4 176.62 L471.6 177.03 L471.8 177.31 L472 177.46 L472.2 177.46 L472.4 177.32 L472.6 177.06 L472.8 176.67 L473 176.16 L473.2 175.56 L473.4 174.88 L473.6 174.13 L473.8 173.34 L474 172.51 L474.2 171.68 L474.4 170.86 L474.6 170.08 L474.8 169.34 L475 168.66 L475.2 168.07 L475.4 167.57 L475.6 167.17 L475.8 166.88 L476 166.7 L476.2 166.65 L476.4 166.71 L476.6 166.88 L476.8 167.17 L477 167.55 L477.2 168.02 L477.4 168.57 L477.6 169.18 L477.8 169.84 L478 170.54 L478.2 171.25 L478.4 171.95 L478.6 172.64 L478.8 173.3 L479 173.9 L479.2 174.45 L479.4 174.91 L479.6 175.3 L479.8 175.59 L480 175.79 L480.2 175.88 L480.4 175.88 L480.6 175.77 L480.8 175.57 L481 175.27 L481.2 174.89 L481.4 174.44 L481.6 173.93 L481.8 173.37 L482 172.78 L482.2 172.16 L482.4 171.54 L482.6 170.93 L482.8 170.34 L483 169.78 L483.2 169.28 L483.4 168.83 L483.6 168.46 L483.8 168.16 L484 167.95 L484.2 167.83 L484.4 167.8 L484.6 167.85 L484.8 168 L485 168.22 L485.2 168.53 L485.4 168.9 L485.6 169.33 L485.8 169.82 L486 170.34 L486.2 170.88 L486.4 171.43 L486.6 171.99 L486.8 172.52 L487 173.04 L487.2 173.51 L487.4 173.93 L487.6 174.3 L487.8 174.59 L488 174.82 L488.2 174.96 L488.4 175.03 L488.6 175.01 L488.8 174.91 L489 174.74 L489.2 174.49 L489.4 174.18 L489.6 173.81 L489.8 173.39 L490 172.94 L490.2 172.45 L490.4 171.95 L490.6 171.45 L490.8 170.95 L491 170.48 L491.2 170.03 L491.4 169.63 L491.6 169.27 L491.8 168.98 L492 168.74 L492.2 168.58 L492.4 168.49 L492.6 168.47 L492.8 168.53 L493 168.66 L493.2 168.86 L493.4 169.12 L493.6 169.43 L493.8 169.8 L494 170.2 L494.2 170.64 L494.4 171.09 L494.6 171.55 L494.8 172.01 L495 172.46 L495.2 172.88 L495.4 173.27 L495.6 173.61 L495.8 173.91 L496 174.15 L496.2 174.33 L496.4 174.44 L496.6 174.48 L496.8 174.46 L497 174.36 L497.2 174.21 L497.4 173.99 L497.6 173.72 L497.8 173.4 L498 173.04 L498.2 172.65 L498.4 172.24 L498.6 171.81 L498.8 171.39 L499 170.97 L499.2 170.57 L499.4 170.2 L499.6 169.86 L499.8 169.57 L500 169.32 L500.2 169.14 L500.4 169.01 L500.6 168.94 L500.8 168.94 L501 169 L501.2 169.12 L501.4 169.3 L501.6 169.53 L501.8 169.81 L502 170.13 L502.2 170.48 L502.4 170.85 L502.6 171.24 L502.8 171.64 L503 172.03 L503.2 172.41 L503.4 172.77 L503.6 173.1 L503.8 173.39 L504 173.63 L504.2 173.83 L504.4 173.97 L504.6 174.06 L504.8 174.08 L505 174.05 L505.2 173.96 L505.4 173.82 L505.6 173.62 L505.8 173.38 L506 173.1 L506.2 172.78 L506.4 172.44 L506.6 172.08 L506.8 171.71 L507 171.34 L507.2 170.98 L507.4 170.64 L507.6 170.32 L507.8 170.04 L508 169.79 L508.2 169.59 L508.4 169.44 L508.6 169.33 L508.8 169.29 L509 169.29 L509.2 169.36 L509.4 169.47 L509.6 169.64 L509.8 169.84 L510 170.09 L510.2 170.38 L510.4 170.69 L510.6 171.02 L510.8 171.36 L511 171.7 L511.2 172.04 L511.4 172.37 L511.6 172.68 L511.8 172.96 L512 173.2 L512.2 173.41 L512.4 173.57 L512.6 173.69 L512.8 173.75 L513 173.76 L513.2 173.73 L513.4 173.64 L513.6 173.5 L513.8 173.33 L514 173.11 L514.2 172.85 L514.4 172.57 L514.6 172.27 L514.8 171.95 L515 171.63 L515.2 171.31 L515.4 171 L515.6 170.7 L515.8 170.43 L516 170.19 L516.2 169.98 L516.4 169.81 L516.6 169.68 L516.8 169.6 L517 169.57 L517.2 169.59 L517.4 169.65 L517.6 169.76 L517.8 169.91 L518 170.1 L518.2 170.33 L518.4 170.58 L518.6 170.86 L518.8 171.15 L519 171.45 L519.2 171.75 L519.4 172.05 L519.6 172.33 L519.8 172.6 L520 172.84 L520.2 173.05 L520.4 173.22 L520.6 173.35 L520.8 173.45 L521 173.49 L521.2 173.5 L521.4 173.46 L521.6 173.37 L521.8 173.24 L522 173.08 L522.2 172.88 L522.4 172.65 L522.6 172.4 L522.8 172.13 L523 171.86 L523.2 171.57 L523.4 171.29 L523.6 171.02 L523.8 170.76 L524 170.53 L524.2 170.32 L524.4 170.14 L524.6 170 L524.8 169.9 L525 169.84 L525.2 169.82 L525.4 169.84 L525.6 169.9 L525.8 170.01 L526 170.15 L526.2 170.32 L526.4 170.52 L526.6 170.75 L526.8 171 L527 171.26 L527.2 171.52 L527.4 171.79 L527.6 172.04 L527.8 172.29 L528 172.52 L528.2 172.73 L528.4 172.9 L528.6 173.05 L528.8 173.16 L529 173.24 L529.2 173.27 L529.4 173.27 L529.6 173.22 L529.8 173.14 L530 173.02 L530.2 172.87 L530.4 172.69 L530.6 172.48 L530.8 172.26 L531 172.02 L531.2 171.77 L531.4 171.53 L531.6 171.28 L531.8 171.04 L532 170.82 L532.2 170.62 L532.4 170.44 L532.6 170.29 L532.8 170.17 L533 170.09 L533.2 170.04 L533.4 170.03 L533.6 170.06 L533.8 170.12 L534 170.22 L534.2 170.35 L534.4 170.51 L534.6 170.69 L534.8 170.89 L535 171.11 L535.2 171.34 L535.4 171.58 L535.6 171.81 L535.8 172.04 L536 172.25 L536.2 172.45 L536.4 172.63 L536.6 172.78 L536.8 172.9 L537 172.99 L537.2 173.05 L537.4 173.07 L537.6 173.06 L537.8 173.02 L538 172.94 L538.2 172.83 L538.4 172.69 L538.6 172.53 L538.8 172.34 L539 172.14 L539.2 171.93 L539.4 171.71 L539.6 171.49 L539.8 171.27 L540 171.07 L540.2 170.87 L540.4 170.7 L540.6 170.55 L540.8 170.42 L541 170.32 L541.2 170.26 L541.4 170.22 L541.6 170.22 L541.8 170.25 L542 170.31 L542.2 170.4 L542.4 170.52 L542.6 170.67 L542.8 170.83 L543 171.02 L543.2 171.21 L543.4 171.41 L543.6 171.62 L543.8 171.83 L544 172.02 L544.2 172.21 L544.4 172.38 L544.6 172.53 L544.8 172.66 L545 172.77 L545.2 172.84 L545.4 172.89 L545.6 172.9 L545.8 172.88 L546 172.84 L546.2 172.76 L546.4 172.66 L546.6 172.53 L546.8 172.38 L547 172.22 L547.2 172.04 L547.4 171.85 L547.6 171.66 L547.8 171.46 L548 171.28 L548.2 171.1 L548.4 170.93 L548.6 170.78 L548.8 170.65 L549 170.54 L549.2 170.46 L549.4 170.41 L549.6 170.38 L549.8 170.39 L550 170.42 L550.2 170.48 L550.4 170.56 L550.6 170.67 L550.8 170.81 L551 170.95 L551.2 171.12 L551.4 171.29 L551.6 171.47 L551.8 171.65 L552 171.83 L552.2 172.01 L552.4 172.17 L552.6 172.32 L552.8 172.45 L553 172.56 L553.2 172.64 L553.4 172.7 L553.6 172.74 L553.8 172.75 L554 172.73 L554.2 172.68 L554.4 172.61 L554.6 172.51 L554.8 172.4 L555 172.26 L555.2 172.12 L555.4 171.96 L555.6 171.79 L555.8 171.62 L556 171.45 L556.2 171.28 L556.4 171.12 L556.6 170.98 L556.8 170.85 L557 170.74 L557.2 170.65 L557.4 170.58 L557.6 170.54 L557.8 170.52 L558 170.53 L558.2 170.57 L558.4 170.62 L558.6 170.7 L558.8 170.81 L559 170.92 L559.2 171.06 L559.4 171.21 L559.6 171.36 L559.8 171.52 L560 171.68 L560.2 171.84 L560.4 171.99 L560.6 172.13 L560.8 172.26 L561 172.37 L561.2 172.46 L561.4 172.53 L561.6 172.58 L561.8 172.61 L562 172.61 L562.2 172.59 L562.4 172.54 L562.6 172.47 L562.8 172.39 L563 172.28 L563.2 172.16 L563.4 172.03 L563.6 171.88 L563.8 171.74 L564 171.58 L564.2 171.44 L564.4 171.29 L564.6 171.15 L564.8 171.03 L565 170.92 L565.2 170.82 L565.4 170.75 L565.6 170.69 L565.8 170.66 L566 170.65 L566.2 170.66 L566.4 170.7 L566.6 170.75 L566.8 170.83 L567 170.92 L567.2 171.03 L567.4 171.15 L567.6 171.28 L567.8 171.42 L568 171.56 L568.2 171.7 L568.4 171.84 L568.6 171.97 L568.8 172.09 L569 172.2 L569.2 172.3 L569.4 172.37 L569.6 172.43 L569.8 172.47 L570 172.49 L570.2 172.49 L570.4 172.46 L570.6 172.42 L570.8 172.36 L571 172.28 L571.2 172.18 L571.4 172.07 L571.6 171.95 L571.8 171.82 L572 171.69 L572.2 171.56 L572.4 171.43 L572.6 171.3 L572.8 171.18 L573 171.08 L573.2 170.98 L573.4 170.9 L573.6 170.84 L573.8 170.79 L574 170.77 L574.2 170.76 L574.4 170.78 L574.6 170.81 L574.8 170.86 L575 170.93 L575.2 171.02 L575.4 171.12 L575.6 171.22 L575.8 171.34 L576 171.46 L576.2 171.59 L576.4 171.71 L576.6 171.83 L576.8 171.95 L577 172.05 L577.2 172.15 L577.4 172.23 L577.6 172.29 L577.8 172.34 L578 172.37 L578.2 172.39 L578.4 172.38 L578.6 172.36 L578.8 172.31 L579 172.25 L579.2 172.18 L579.4 172.09 L579.6 172 L579.8 171.89 L580 171.78 L580.2 171.66 L580.4 171.54 L580.6 171.43 L580.8 171.32 L581 171.21 L581.2 171.12 L581.4 171.04 L581.6 170.97 L581.8 170.92 L582 170.88 L582.2 170.86 L582.4 170.86 L582.6 170.88 L582.8 170.91 L583 170.96 L583.2 171.03 L583.4 171.1 L583.6 171.19 L583.8 171.29 L584 171.39 L584.2 171.5 L584.4 171.61 L584.6 171.72 L584.8 171.83 L585 171.93 L585.2 172.02 L585.4 172.1 L585.6 172.17 L585.8 172.22 L586 172.26 L586.2 172.29 L586.4 172.29 L586.6 172.28 L586.8 172.26 L587 172.22 L587.2 172.17 L587.4 172.1 L587.6 172.02 L587.8 171.93 L588 171.83 L588.2 171.73 L588.4 171.63 L588.6 171.53 L588.8 171.43 L589 171.33 L589.2 171.24 L589.4 171.16 L589.6 171.09 L589.8 171.04 L590 170.99 L590.2 170.96 L590.4 170.95 L590.6 170.95 L590.8 170.97 L591 171 L591.2 171.05 L591.4 171.11 L591.6 171.18 L591.8 171.26 L592 171.34 L592.2 171.44 L592.4 171.53 L592.6 171.63 L592.8 171.72 L593 171.82 L593.2 171.9 L593.4 171.98 L593.6 172.05 L593.8 172.11 L594 172.16 L594.2 172.19 L594.4 172.21 L594.6 172.21 L594.8 172.2 L595 172.18 L595.2 172.14 L595.4 172.09 L595.6 172.03 L595.8 171.95 L596 171.87 L596.2 171.79 L596.4 171.7 L596.6 171.61 L596.8 171.52 L597 171.43 L597.2 171.35 L597.4 171.27 L597.6 171.2 L597.8 171.14 L598 171.09 L598.2 171.06 L598.4 171.03 L598.6 171.03 L598.8 171.03 L599 171.05 L599.2 171.08 L599.4 171.12 L599.6 171.18 L599.8 171.24 L600 171.31 L600.2 171.39 L600.4 171.47 L600.6 171.56 L600.8 171.64 L601 171.73 L601.2 171.81 L601.4 171.88 L601.6 171.95 L601.8 172.01 L602 172.06 L602.2 172.1 L602.4 172.12 L602.6 172.14 L602.8 172.14 L603 172.13 L603.2 172.1 L603.4 172.07 L603.6 172.02 L603.8 171.96 L604 171.9 L604.2 171.83 L604.4 171.75 L604.6 171.67 L604.8 171.59 L605 171.51 L605.2 171.43 L605.4 171.36 L605.6 171.3 L605.8 171.24 L606 171.19 L606.2 171.15 L606.4 171.12 L606.6 171.1 L606.8 171.09 L607 171.1 L607.2 171.12 L607.4 171.15 L607.6 171.19 L607.8 171.24 L608 171.29 L608.2 171.36 L608.4 171.43 L608.6 171.5 L608.8 171.58 L609 171.65 L609.2 171.73 L609.4 171.8 L609.6 171.86 L609.8 171.92 L610 171.97 L610.2 172.01 L610.4 172.04 L610.6 172.07 L610.8 172.08 L611 172.07 L611.2 172.06 L611.4 172.04 L611.6 172 L611.8 171.96 L612 171.91 L612.2 171.85 L612.4 171.79 L612.6 171.72 L612.8 171.65 L613 171.58 L613.2 171.51 L613.4 171.44 L613.6 171.38 L613.8 171.32 L614 171.27 L614.2 171.23 L614.4 171.19 L614.6 171.17 L614.8 171.16 L615 171.15 L615.2 171.16 L615.4 171.18 L615.6 171.21 L615.8 171.24 L616 171.29 L616.2 171.34 L616.4 171.4 L616.6 171.46 L616.8 171.53 L617 171.59 L617.2 171.66 L617.4 171.72 L617.6 171.79 L617.8 171.84 L618 171.89 L618.2 171.94 L618.4 171.97 L618.6 172 L618.8 172.01 L619 172.02 L619.2 172.02 L619.4 172 L619.6 171.98 L619.8 171.95 L620 171.91 L620.2 171.86 L620.4 171.81 L620.6 171.75 L620.8 171.69 L621 171.63 L621.2 171.57 L621.4 171.51 L621.6 171.45 L621.8 171.39 L622 171.34 L622.2 171.3 L622.4 171.26 L622.6 171.24 L622.8 171.22 L623 171.21 L623.2 171.21 L623.4 171.22 L623.6 171.23 L623.8 171.26 L624 171.29 L624.2 171.33 L624.4 171.38 L624.6 171.43 L624.8 171.49 L625 171.55 L625.2 171.61 L625.4 171.66 L625.6 171.72 L625.8 171.77 L626 171.82 L626.2 171.87 L626.4 171.9 L626.6 171.93 L626.8 171.95 L627 171.97 L627.2 171.97 L627.4 171.97 L627.6 171.95 L627.8 171.93 L628 171.9 L628.2 171.87 L628.4 171.82 L628.6 171.78 L628.8 171.73 L629 171.67 L629.2 171.62 L629.4 171.56 L629.6 171.51 L629.8 171.46 L630 171.41 L630.2 171.37 L630.4 171.33 L630.6 171.3 L630.8 171.28 L631 171.26 L631.2 171.25 L631.4 171.25 L631.6 171.26 L631.8 171.28 L632 171.3 L632.2 171.34 L632.4 171.37 L632.6 171.42 L632.8 171.46 L633 171.51 L633.2 171.56 L633.4 171.62 L633.6 171.67 L633.8 171.72 L634 171.76 L634.2 171.8 L634.4 171.84 L634.6 171.87 L634.8 171.9 L635 171.91 L635.2 171.92 L635.4 171.93 L635.6 171.92 L635.8 171.91 L636 171.89 L636.2 171.86 L636.4 171.83 L636.6 171.79 L636.8 171.75 L637 171.7 L637.2 171.65 L637.4 171.6 L637.6 171.56 L637.8 171.51 L638 171.46 L638.2 171.42 L638.4 171.39 L638.6 171.36 L638.8 171.33 L639 171.31 L639.2 171.3 L639.4 171.29 L639.6 171.3 L639.8 171.31 L680 171.6" fill="none" stroke="#d9632e" stroke-width="1.4" stroke-linejoin="round" stroke-linecap="butt" clip-path="url(#cR1)"/>
<path d="M402.3 126.4H674.3V206.6H402.3ZM402.3 206.6v-3.2M402.3 126.4v3.2M456.7 206.6v-3.2M456.7 126.4v3.2M511.1 206.6v-3.2M511.1 126.4v3.2M565.5 206.6v-3.2M565.5 126.4v3.2M619.9 206.6v-3.2M619.9 126.4v3.2M674.3 206.6v-3.2M674.3 126.4v3.2M402.3 206.6h3.2M674.3 206.6h-3.2M402.3 173h3.2M674.3 173h-3.2M402.3 139.4h3.2M674.3 139.4h-3.2" stroke="#2e2220" stroke-width="1.3" fill="none" stroke-linejoin="miter"/>
<text x="397.27" y="230.2">0</text>
<text x="444.71" y="230.2">0.5</text>
<path class="g1" transform="translate(506.07 230.2) scale(0.008057 -0.008057)" d="M620 0L790 0L790 1409L672 1409Q600 1185 300 1150L300 1022Q520 1030 620 1118Z"/>
<text x="506.07" y="230.2"> </text>
<path class="g1" transform="translate(553.51 230.2) scale(0.008057 -0.008057)" d="M620 0L790 0L790 1409L672 1409Q600 1185 300 1150L300 1022Q520 1030 620 1118Z"/>
<text x="553.51" y="230.2"> .5</text>
<text x="614.87" y="230.2">2</text>
<text x="662.31" y="230.2">2.5</text>
<path class="g1" transform="translate(377.17 213.2) scale(0.008057 -0.008057)" d="M620 0L790 0L790 1409L672 1409Q600 1185 300 1150L300 1022Q520 1030 620 1118Z"/>
<text x="371.59" y="213.2">- 0</text>
<text x="386.42" y="179.6">0</text>
<path class="g1" transform="translate(377.17 146) scale(0.008057 -0.008057)" d="M620 0L790 0L790 1409L672 1409Q600 1185 300 1150L300 1022Q520 1030 620 1118Z"/>
<text x="377.17" y="146"> 0</text>
<rect x="577.5" y="138.35" width="84.8" height="25.4" fill="#fff" stroke="#6a6a6a" stroke-width="1.4"/>
<path d="M580.9 150.95H607.9" stroke="#d9632e" stroke-width="1.3"/>
<text x="611.1" y="157.55">VAMP</text>
<clipPath id="cR2"><rect x="401.8" y="245.9" width="271.8" height="80.7"/></clipPath>
<path d="M456.16 245.9V326.6M510.52 245.9V326.6M564.88 245.9V326.6M619.24 245.9V326.6M401.8 293H673.6M401.8 259.4H673.6" stroke="#e1e2e4" stroke-width="1" fill="none"/>
<path d="M390 293 L455.7 293 L456.3 289.5 L457.15 266.2 L457.35 266.4 L458.3 291 L458.5 291.48 L458.7 292.73 L458.9 294.27 L459.1 295.52 L459.3 296 L459.51 295.77 L459.72 295.11 L459.93 294.1 L460.14 292.86 L460.36 291.54 L460.57 290.3 L460.78 289.29 L460.99 288.63 L461.2 288.4 L461.42 288.84 L461.64 289.99 L461.86 291.41 L462.08 292.56 L462.3 293 L462.54 292.67 L462.78 291.79 L463.02 290.71 L463.26 289.83 L463.5 289.5 L463.72 289.68 L463.93 290.18 L464.15 290.85 L464.37 291.52 L464.58 292.02 L464.8 292.2 L465.02 292.06 L465.23 291.68 L465.45 291.15 L465.67 290.62 L465.88 290.24 L466.1 290.1 L466.33 290.18 L466.56 290.42 L466.79 290.76 L467.01 291.14 L467.24 291.48 L467.47 291.72 L467.7 291.8 L467.91 291.73 L468.13 291.52 L468.34 291.22 L468.56 290.88 L468.77 290.58 L468.99 290.37 L469.2 290.3 L469.41 290.34 L469.62 290.46 L469.83 290.65 L470.04 290.88 L470.26 291.12 L470.47 291.35 L470.68 291.54 L470.89 291.66 L471.1 291.7 L471.31 291.64 L471.53 291.46 L471.74 291.19 L471.96 290.91 L472.17 290.64 L472.39 290.46 L472.6 290.4 L472.83 290.45 L473.06 290.59 L473.29 290.79 L473.51 291.01 L473.74 291.21 L473.97 291.35 L474.2 291.4 L474.4 291.38 L474.6 291.31 L474.8 291.2 L475 291.07 L475.2 290.93 L475.4 290.8 L475.6 290.69 L475.8 290.62 L476 290.6 L476.2 290.62 L476.4 290.67 L476.6 290.74 L476.8 290.84 L477 290.95 L477.2 291.06 L477.4 291.16 L477.6 291.23 L477.8 291.28 L478 291.3 L478.2 291.29 L478.4 291.25 L478.6 291.2 L478.8 291.13 L479 291.05 L479.2 290.97 L479.4 290.9 L479.6 290.85 L479.8 290.81 L480 290.8 L480.2 290.81 L480.4 290.85 L480.6 290.9 L480.8 290.97 L481 291.06 L481.2 291.15 L481.4 291.25 L481.6 291.34 L481.8 291.43 L482 291.5 L482.2 291.55 L482.4 291.59 L482.6 291.6 L482.82 291.59 L483.04 291.55 L483.25 291.5 L483.47 291.42 L483.69 291.34 L483.91 291.26 L484.13 291.18 L484.35 291.1 L484.56 291.05 L484.78 291.01 L485 291 L680 291" fill="none" stroke="#e7b040" stroke-width="1.4" stroke-linejoin="round" stroke-linecap="butt" clip-path="url(#cR2)"/>
<path d="M401.8 245.9H673.6V326.6H401.8ZM401.8 326.6v-3.2M401.8 245.9v3.2M456.16 326.6v-3.2M456.16 245.9v3.2M510.52 326.6v-3.2M510.52 245.9v3.2M564.88 326.6v-3.2M564.88 245.9v3.2M619.24 326.6v-3.2M619.24 245.9v3.2M673.6 326.6v-3.2M673.6 245.9v3.2M401.8 326.6h3.2M673.6 326.6h-3.2M401.8 293h3.2M673.6 293h-3.2M401.8 259.4h3.2M673.6 259.4h-3.2" stroke="#2e2220" stroke-width="1.3" fill="none" stroke-linejoin="miter"/>
<text x="396.77" y="350.2">0</text>
<text x="444.17" y="350.2">0.5</text>
<path class="g1" transform="translate(505.49 350.2) scale(0.008057 -0.008057)" d="M620 0L790 0L790 1409L672 1409Q600 1185 300 1150L300 1022Q520 1030 620 1118Z"/>
<text x="505.49" y="350.2"> </text>
<path class="g1" transform="translate(552.89 350.2) scale(0.008057 -0.008057)" d="M620 0L790 0L790 1409L672 1409Q600 1185 300 1150L300 1022Q520 1030 620 1118Z"/>
<text x="552.89" y="350.2"> .5</text>
<text x="614.21" y="350.2">2</text>
<text x="661.61" y="350.2">2.5</text>
<path class="g1" transform="translate(376.67 333.2) scale(0.008057 -0.008057)" d="M620 0L790 0L790 1409L672 1409Q600 1185 300 1150L300 1022Q520 1030 620 1118Z"/>
<text x="371.09" y="333.2">- 0</text>
<text x="385.92" y="299.6">0</text>
<path class="g1" transform="translate(376.67 266) scale(0.008057 -0.008057)" d="M620 0L790 0L790 1409L672 1409Q600 1185 300 1150L300 1022Q520 1030 620 1118Z"/>
<text x="376.67" y="266"> 0</text>
<rect x="527.2" y="258.55" width="135" height="24.8" fill="#fff" stroke="#6a6a6a" stroke-width="1.4"/>
<path d="M531.8 270.85H557.6" stroke="#e7b040" stroke-width="1.3"/>
<text x="560.8" y="277.45">Peano-Hasel</text>
<clipPath id="cR3"><rect x="402.3" y="365.9" width="271.2" height="80.7"/></clipPath>
<path d="M456.54 365.9V446.6M510.78 365.9V446.6M565.02 365.9V446.6M619.26 365.9V446.6M402.3 413H673.5M402.3 379.4H673.5" stroke="#e1e2e4" stroke-width="1" fill="none"/>
<path d="M390 412.9 L455.9 412.9 L456.4 393.2 L456.8 410 L457.1 397.4 L457.6 410 L458.3 373.4 L459.4 433 L459.9 400 L460.4 420 L461 406 L461.5 418 L462.2 403.9 L462.8 419 L463.4 410 L464 399.3 L464.6 414 L465.1 406 L465.7 420.1 L466.4 411 L467.3 411.8 L469 410.8 L470.5 410.6 L472 411.3 L680 411.3" fill="none" stroke="#7a3188" stroke-width="1.4" stroke-linejoin="round" stroke-linecap="butt" clip-path="url(#cR3)"/>
<path d="M402.3 365.9H673.5V446.6H402.3ZM402.3 446.6v-3.2M402.3 365.9v3.2M456.54 446.6v-3.2M456.54 365.9v3.2M510.78 446.6v-3.2M510.78 365.9v3.2M565.02 446.6v-3.2M565.02 365.9v3.2M619.26 446.6v-3.2M619.26 365.9v3.2M673.5 446.6v-3.2M673.5 365.9v3.2M402.3 446.6h3.2M673.5 446.6h-3.2M402.3 413h3.2M673.5 413h-3.2M402.3 379.4h3.2M673.5 379.4h-3.2" stroke="#2e2220" stroke-width="1.3" fill="none" stroke-linejoin="miter"/>
<text x="397.27" y="470.2">0</text>
<text x="444.55" y="470.2">0.5</text>
<path class="g1" transform="translate(505.75 470.2) scale(0.008057 -0.008057)" d="M620 0L790 0L790 1409L672 1409Q600 1185 300 1150L300 1022Q520 1030 620 1118Z"/>
<text x="505.75" y="470.2"> </text>
<path class="g1" transform="translate(553.03 470.2) scale(0.008057 -0.008057)" d="M620 0L790 0L790 1409L672 1409Q600 1185 300 1150L300 1022Q520 1030 620 1118Z"/>
<text x="553.03" y="470.2"> .5</text>
<text x="614.23" y="470.2">2</text>
<text x="661.51" y="470.2">2.5</text>
<path class="g1" transform="translate(377.17 453.2) scale(0.008057 -0.008057)" d="M620 0L790 0L790 1409L672 1409Q600 1185 300 1150L300 1022Q520 1030 620 1118Z"/>
<text x="371.59" y="453.2">- 0</text>
<text x="386.42" y="419.6">0</text>
<path class="g1" transform="translate(377.17 386) scale(0.008057 -0.008057)" d="M620 0L790 0L790 1409L672 1409Q600 1185 300 1150L300 1022Q520 1030 620 1118Z"/>
<text x="377.17" y="386"> 0</text>
<rect x="506.1" y="378.65" width="154.8" height="24.4" fill="#fff" stroke="#6a6a6a" stroke-width="1.4"/>
<path d="M510 390.85H536.6" stroke="#7a3188" stroke-width="1.3"/>
<text x="539.8" y="397.45">Shock absorber</text>
<path d="M89.4 62.2V447.4" stroke="#2a1c1a" stroke-width="1.3" stroke-dasharray="3.15 2.42" stroke-dashoffset="1.6"/>
<path d="M106 423V447.4" stroke="#2a1c1a" stroke-width="1.3" stroke-dasharray="3.15 2.42" stroke-dashoffset="0.75"/>
<path d="M160.1 303V447.4" stroke="#2a1c1a" stroke-width="1.3" stroke-dasharray="3.15 2.42" stroke-dashoffset="2.6"/>
<path d="M316.3 182.8V447.4" stroke="#2a1c1a" stroke-width="1.3" stroke-dasharray="3.15 2.42" stroke-dashoffset="2.0"/>
<path d="M477.6 51.6V446.6" stroke="#2a1c1a" stroke-width="1.3" stroke-dasharray="3.15 2.42" stroke-dashoffset="1.75"/>
<path d="M471.7 411V446.6" stroke="#2a1c1a" stroke-width="1.3" stroke-dasharray="3.15 2.42" stroke-dashoffset="0.25"/>
<path d="M490.8 291.5V446.6" stroke="#2a1c1a" stroke-width="1.3" stroke-dasharray="3.15 2.42" stroke-dashoffset="1.95"/>
<path d="M626.3 171.6V446.6" stroke="#2a1c1a" stroke-width="1.3" stroke-dasharray="3.15 2.42" stroke-dashoffset="2.15"/>
<text x="157.14" y="492.8">Time (s)</text>
<text x="507.34" y="492.6">Time (s)</text>
<text transform="translate(12.2 226.9) rotate(-90)" text-anchor="middle">Longitudinal passive force (N)</text>
<text transform="translate(363.3 226.4) rotate(-90)" text-anchor="middle">Lateral passive force (N)</text>
</svg></body></html>
